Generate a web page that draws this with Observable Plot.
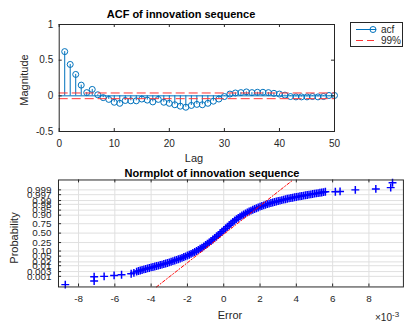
<!DOCTYPE html>
<html><head><meta charset="utf-8">
<script src="https://cdn.jsdelivr.net/npm/d3@7"></script>
<script src="https://cdn.jsdelivr.net/npm/@observablehq/plot@0.6"></script>
<style>
body{margin:0;background:#fff;}
#fig{position:relative;width:405px;height:322px;overflow:hidden;font-family:"Liberation Sans",Arial,Helvetica,sans-serif;background:#fff;}
#fig > svg{position:absolute;left:0;top:0;}
.t{position:absolute;white-space:nowrap;color:#262626;font-size:11px;line-height:1;}
.ttl{font-weight:bold;color:#000;font-size:11px;}
</style></head><body>
<div id="fig"></div>
<script>
// ---------- ACF subplot data ----------
const lags = [1,2,3,4,5,6,7,8,9,10,11,12,13,14,15,16,17,18,19,20,21,22,23,24,25,26,27,28,29,30,31,32,33,34,35,36,37,38,39,40,41,42,43,44,45,46,47,48,49,50];
const acfValues = [0.62,0.44,0.30,0.15,0.045,0.09,0.015,-0.025,-0.05,-0.09,-0.105,-0.065,-0.07,-0.07,-0.045,-0.06,-0.085,-0.05,-0.09,-0.105,-0.125,-0.145,-0.16,-0.135,-0.12,-0.125,-0.105,-0.075,-0.045,-0.01,0.025,0.04,0.045,0.055,0.045,0.05,0.05,0.045,0.035,0.025,0.01,-0.01,-0.015,-0.015,-0.015,-0.01,-0.015,-0.01,0.005,0.005];
const confBounds99 = [-0.04, 0.04];
const lagTicks = [0,10,20,30,40,50];
const magTicks = [-0.5,0,0.5,1];
const magTickLabels = ["-0.5","0","0.5","1"];

// ---------- Normplot data (error in units of 1e-3, normal quantile of plotting position) ----------
const errorValues = [-8.73,-7.14,-7.14,-6.59,-6.04,-5.63,-5.1,-4.95,
 -4.8,-4.7,-4.6,-4.5,-4.4,-4.3,-4.2,-4.1,-4.0,-3.9,-3.8,-3.7,-3.6,-3.5,-3.4,-3.3,-3.2,-3.1,-3.0,
 -2.9,-2.8,-2.7,-2.6,-2.5,-2.4,-2.3,-2.2,-2.1,-2.0,-1.9,-1.8,-1.7,-1.6,-1.5,-1.4,-1.3,-1.2,-1.1,-1.0,
 -0.9,-0.8,-0.7,-0.6,-0.5,-0.4,-0.3,-0.2,-0.1,0.0,0.1,0.2,0.3,0.4,0.5,0.6,0.7,0.8,0.9,1.0,
 1.1,1.2,1.3,1.4,1.5,1.6,1.7,1.8,1.9,2.0,2.1,2.2,2.3,2.4,2.5,2.6,2.7,2.8,2.9,3.0,
 3.1,3.2,3.3,3.4,3.5,3.6,3.7,3.8,3.9,4.0,4.1,4.2,4.3,4.4,4.5,4.6,4.7,4.8,4.9,5.0,
 5.1,5.2,5.3,5.4,5.5,5.6,
 6.15,6.41,7.25,8.38,9.2,9.3];
const normQuantiles = [-3.68,-3.42,-3.12,-3.09,-3.02,-2.97,-2.9,-2.84,
 -2.75,-2.71,-2.67,-2.63,-2.59,-2.56,-2.52,-2.49,-2.45,-2.42,-2.39,-2.35,-2.32,-2.28,-2.25,-2.21,-2.17,-2.13,-2.09,
 -2.05,-2.00,-1.96,-1.91,-1.87,-1.82,-1.77,-1.71,-1.66,-1.60,-1.54,-1.48,-1.41,-1.35,-1.28,-1.20,-1.12,-1.04,-0.95,-0.85,
 -0.76,-0.66,-0.56,-0.46,-0.35,-0.24,-0.13,-0.01,0.10,0.22,0.33,0.45,0.56,0.67,0.79,0.90,0.99,1.09,1.18,1.26,
 1.33,1.41,1.48,1.54,1.61,1.67,1.72,1.78,1.83,1.89,1.94,1.98,2.03,2.07,2.11,2.15,2.19,2.22,2.26,2.29,
 2.32,2.36,2.39,2.42,2.45,2.48,2.51,2.53,2.56,2.58,2.61,2.63,2.65,2.68,2.70,2.72,2.75,2.77,2.79,2.82,
 2.84,2.86,2.88,2.90,2.93,2.95,
 2.96,2.98,3.09,3.16,3.25,3.6];
const refLineError = [-3.71, 3.82];
const refLineQuantile = [-3.85, 3.80];
const probTicks = [0.001,0.003,0.01,0.02,0.05,0.10,0.25,0.50,0.75,0.90,0.95,0.98,0.99,0.997,0.999];
const probTickLabels = ["0.001","0.003","0.01","0.02","0.05","0.10","0.25","0.50","0.75","0.90","0.95","0.98","0.99","0.997","0.999"];
const errTicks = [-8,-6,-4,-2,0,2,4,6,8];

// inverse normal CDF (Acklam) for the probability axis
function probit(p){
  const a=[-39.69683028665376,220.9460984245205,-275.9285104469687,138.3577518672690,-30.66479806614716,2.506628277459239];
  const b=[-54.47609879822406,161.5858368580409,-155.6989798598866,66.80131188771972,-13.28068155288572];
  const c=[-0.007784894002430293,-0.3223964580411365,-2.400758277161838,-2.549732539343734,4.374664141464968,2.938163982698783];
  const d=[0.007784695709041462,0.3224671290700398,2.445134137142996,3.754408661907416];
  const pl=0.02425;
  if(p<pl){const q=Math.sqrt(-2*Math.log(p));return (((((c[0]*q+c[1])*q+c[2])*q+c[3])*q+c[4])*q+c[5])/((((d[0]*q+d[1])*q+d[2])*q+d[3])*q+1);}
  if(p<=1-pl){const q=p-0.5,r=q*q;return (((((a[0]*r+a[1])*r+a[2])*r+a[3])*r+a[4])*r+a[5])*q/(((((b[0]*r+b[1])*r+b[2])*r+b[3])*r+b[4])*r+1);}
  const q=Math.sqrt(-2*Math.log(1-p));return -(((((c[0]*q+c[1])*q+c[2])*q+c[3])*q+c[4])*q+c[5])/((((d[0]*q+d[1])*q+d[2])*q+d[3])*q+1);
}

const BLUE="#0072bd", RED99="#ff3434", AXC="#262626", GRID="#e0e0e0";
const fig = document.getElementById("fig");
const FONT = '"Liberation Sans",Arial,Helvetica,sans-serif';

// ---------- Top: ACF ----------
const acf = lags.map((l,i)=>({lag:l, v:acfValues[i]}));
const X0=0, X1=50, Y0=-0.5, Y1=1;
const acfChart = Plot.plot({
  width:405, height:322,
  marginLeft:58.7, marginRight:71, marginTop:24, marginBottom:191,
  x:{domain:[X0,X1], axis:null},
  y:{domain:[Y0,Y1], axis:null},
  style:{background:"transparent", fontFamily:FONT, fontSize:"10px", overflow:"visible"},
  marks:[
    Plot.ruleY([0], {x1:X0, x2:X1, stroke:BLUE, strokeWidth:1}),
    Plot.ruleX(acf, {x:"lag", y1:0, y2:"v", stroke:BLUE, strokeWidth:1}),
    Plot.dot(acf, {x:"lag", y:"v", r:3, stroke:BLUE, fill:"none", strokeWidth:1}),
    Plot.ruleY(confBounds99, {x1:X0, x2:X1, stroke:RED99, strokeWidth:1, strokeDasharray:"9,4"}),
    Plot.frame({stroke:AXC, strokeWidth:1}),
    Plot.ruleY(magTicks, {y:d=>d, x1:X0, x2:X0+0.55, stroke:AXC}),
    Plot.ruleY(magTicks, {y:d=>d, x1:X1-0.55, x2:X1, stroke:AXC}),
    Plot.ruleX(lagTicks, {x:d=>d, y1:Y0, y2:Y0+0.042, stroke:AXC}),
    Plot.ruleX(lagTicks, {x:d=>d, y1:Y1-0.042, y2:Y1, stroke:AXC}),
    Plot.text(magTicks, {x:X0, y:d=>d, text:(d,i)=>magTickLabels[i], textAnchor:"end", dx:-6, fill:AXC, fontSize:10}),
    Plot.text(lagTicks, {x:d=>d, y:Y0, text:d=>String(d), lineAnchor:"top", dy:8, fill:AXC, fontSize:10})
  ]
});
fig.appendChild(acfChart);

// ---------- Bottom: Normplot ----------
const pts = errorValues.map((e,i)=>({e, z:normQuantiles[i]}));
const ref = refLineError.map((e,i)=>({e, z:refLineQuantile[i]}));
const probZ = probTicks.map(probit);
const EX0=-9.105, EX1=9.9, ZY0=-3.846, ZY1=3.797;
const normChart = Plot.plot({
  width:410, height:322,
  marginLeft:58.7, marginRight:2.1, marginTop:181.7, marginBottom:32,
  x:{domain:[EX0,EX1], axis:null},
  y:{domain:[ZY0,ZY1], axis:null},
  style:{background:"transparent", fontFamily:FONT, fontSize:"10px", overflow:"visible"},
  marks:[
    Plot.ruleX(errTicks, {x:d=>d, y1:ZY0, y2:ZY1, stroke:GRID}),
    Plot.ruleY(probZ, {y:d=>d, x1:EX0, x2:EX1, stroke:GRID}),
    Plot.dot(pts, {x:"e", y:"z", symbol:"plus", r:2.7, stroke:"#0000ff", strokeWidth:1.5}),
    Plot.line(ref, {x:"e", y:"z", stroke:"#ff0000", strokeWidth:1, strokeDasharray:"3,2,1,2"}),
    Plot.frame({stroke:AXC, strokeWidth:1}),
    Plot.ruleY(probZ, {y:d=>d, x1:EX0, x2:EX0+0.17, stroke:AXC}),
    Plot.ruleX(errTicks, {x:d=>d, y1:ZY0, y2:ZY0+0.21, stroke:AXC}),
    Plot.ruleX(errTicks, {x:d=>d, y1:ZY1-0.21, y2:ZY1, stroke:AXC}),
    Plot.text(probZ, {x:EX0, y:d=>d, text:(d,i)=>probTickLabels[i], textAnchor:"end", dx:-7, fill:AXC, fontSize:10}),
    Plot.text(errTicks, {x:d=>d, y:ZY0, text:d=>String(d), lineAnchor:"top", dy:8, fill:AXC, fontSize:10})
  ]
});
fig.appendChild(normChart);

// ---------- Titles, labels, legend ----------
function addText(txt, cls, x, y, anchor, rotate){
  const el=document.createElement("div");
  el.className="t "+(cls||"");
  el.textContent=txt;
  el.style.left=x+"px"; el.style.top=y+"px";
  let tr = anchor==="middle" ? "translate(-50%,-50%)" : "translate(0,-50%)";
  if(rotate) tr += " rotate(-90deg)";
  el.style.transform=tr;
  fig.appendChild(el);
  return el;
}
addText("ACF of innovation sequence","ttl",181,14,"middle");
addText("Magnitude","",24,80,"middle",true);
addText("Lag","",194,158,"middle");
addText("Normplot of innovation sequence","ttl",212,173,"middle");
addText("Probability","",14,238,"middle",true);
addText("Error","",230,315,"middle");
const ex=document.createElement("div");
ex.className="t"; ex.style.left="375px"; ex.style.top="311px"; ex.style.fontSize="10px";
ex.innerHTML='×10<sup style="font-size:8px;vertical-align:4px">-3</sup>';
fig.appendChild(ex);

// legend
const lg=document.createElement("div");
lg.style.cssText="position:absolute;left:350px;top:22px;width:53px;height:25px;border:1px solid #262626;background:#fff;box-sizing:border-box;";
lg.innerHTML='<svg width="53" height="25" style="position:absolute;left:-1px;top:-1px">'+
 '<line x1="6" x2="26" y1="7.5" y2="7.5" stroke="'+BLUE+'"/><circle cx="23" cy="7.5" r="3" fill="none" stroke="'+BLUE+'"/>'+
 '<line x1="6" x2="26" y1="18.5" y2="18.5" stroke="'+RED99+'" stroke-dasharray="7,4"/>'+
 '<text x="31" y="11" font-size="10" fill="#262626" font-family=\'Liberation Sans,Arial\'>acf</text>'+
 '<text x="31" y="22" font-size="10" fill="#262626" font-family=\'Liberation Sans,Arial\'>99%</text></svg>';
fig.appendChild(lg);
</script>
</body></html>
